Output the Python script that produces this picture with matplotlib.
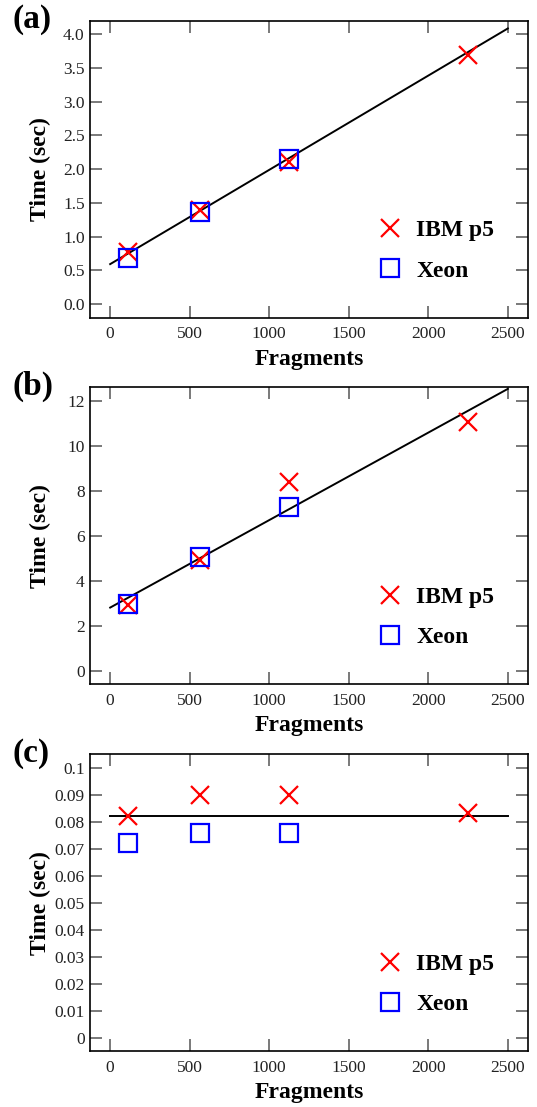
import matplotlib
matplotlib.use("Agg")
import matplotlib.pyplot as plt
from matplotlib.ticker import MultipleLocator, FormatStrFormatter

plt.rcParams['font.family'] = ['Liberation Serif', 'DejaVu Serif']

# ---- data ----
fragments = [112, 562, 1125, 2250]
xeon_fragments = [112, 562, 1125]

ibm_a = [0.77, 1.39, 2.10, 3.69]
xeon_a = [0.69, 1.37, 2.15]
fit_a = [0.594, 4.085]          # fit line value at x=0 and x=2500

ibm_b = [2.92, 4.92, 8.37, 11.07]
xeon_b = [2.95, 5.04, 7.29]
fit_b = [2.81, 12.53]

ibm_c = [0.0820, 0.0900, 0.0900, 0.0833]
xeon_c = [0.0723, 0.0759, 0.0759]
fit_c = [0.0820, 0.0820]

fit_x = [0, 2500]

W, H = 537, 1107
left_px, right_px = 90.3, 527.7
panel_tops = [20.7, 387.3, 754.3]
panel_h = 297.0

panels = [
    dict(label='(a)', ibm=ibm_a, xeon=xeon_a, fit=fit_a, ylim=(-0.2, 4.2), ystep=0.5, fmt='%.1f'),
    dict(label='(b)', ibm=ibm_b, xeon=xeon_b, fit=fit_b, ylim=(-0.6, 12.6), ystep=2, fmt='%g'),
    dict(label='(c)', ibm=ibm_c, xeon=xeon_c, fit=fit_c, ylim=(-0.005, 0.105), ystep=0.01, fmt='%g'),
]

fig = plt.figure(figsize=(W / 100, H / 100), dpi=100)

for p, top in zip(panels, panel_tops):
    rect = [left_px / W, 1 - (top + panel_h) / H, (right_px - left_px) / W, panel_h / H]
    ax = fig.add_axes(rect)
    ax.plot(fit_x, p['fit'], color='black', lw=1.4, zorder=2)
    ax.plot(fragments, p['ibm'], linestyle='none', marker='x', markersize=12.5,
            markeredgewidth=1.6, color='#ff0000', label='IBM p5', zorder=3)
    ax.plot(xeon_fragments, p['xeon'], linestyle='none', marker='s', markersize=12.5,
            markeredgewidth=1.6, markerfacecolor='none', markeredgecolor='#0000ff',
            label='Xeon', zorder=3)
    ax.set_xlim(-125, 2625)
    ax.set_ylim(*p['ylim'])
    ax.xaxis.set_major_locator(MultipleLocator(500))
    ax.yaxis.set_major_locator(MultipleLocator(p['ystep']))
    ax.yaxis.set_major_formatter(FormatStrFormatter(p['fmt']))
    ax.tick_params(direction='in', length=8.6, width=1.1, color='#555555',
                   top=True, right=True, labelsize=12.5, pad=4, labelcolor='#222222')
    ax.tick_params(axis='x', pad=6)
    for s in ax.spines.values():
        s.set_linewidth(1.2)
    ax.set_xlabel('Fragments', fontsize=17, fontweight='bold')
    ax.set_ylabel('Time (sec)', fontsize=17, fontweight='bold')
    ax.xaxis.set_label_coords(0.5, -0.105)
    ax.yaxis.set_label_coords(-0.09, 0.5)
    ax.legend(loc='lower right', bbox_to_anchor=(0.972, 0.05), frameon=False,
              prop={'weight': 'bold', 'size': 17}, handletextpad=0.5,
              labelspacing=0.8, handlelength=1.2)
    fig.text(13 / W, 1 - (top - 1) / H, p['label'], fontsize=24, fontweight='bold',
             ha='left', va='center')

fig.savefig('out.png', dpi=100)
